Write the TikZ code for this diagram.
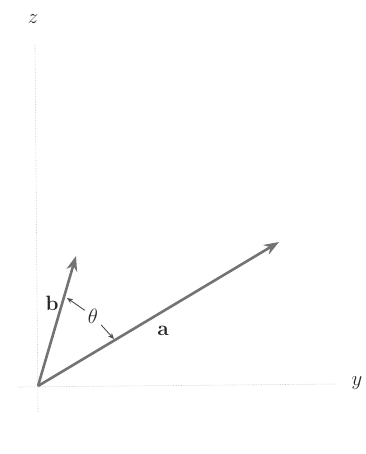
\documentclass[tikz,border=0pt]{standalone}
\usepackage{amsmath, amssymb}
\usepackage{tikz}
\usetikzlibrary{arrows.meta}

\begin{document}
\begin{tikzpicture}[x=1pt, y=-1pt, every node/.style={font=\fontsize{21}{24}\selectfont, text=black!85}]
  \useasboundingbox (0,0) rectangle (365,454);
  \coordinate (O) at (38,386);
  \coordinate (ztop) at (35,44);
  \coordinate (zbot) at (38,412);
  \coordinate (yleft) at (18,387);
  \coordinate (yright) at (336,384);
  \coordinate (atip) at (279,242);
  \coordinate (btip) at (76,256);
  \coordinate (bpt) at (67,298);
  \coordinate (apt) at (114,339);
  % axes
  \draw[densely dotted, gray!45, line width=0.6pt] (zbot) -- (ztop);
  \draw[densely dotted, gray!45, line width=0.6pt] (yleft) -- (yright);
  \node (zlab) at (33,19) {$z$};
  \node (ylab) at (357,383) {$y$};
  % vectors
  \draw[black!55, line width=2.6pt, -{Stealth[length=15pt, width=11pt]}] (O) -- (atip);
  \draw[black!55, line width=2.6pt, -{Stealth[length=15pt, width=11pt]}] (O) -- (btip);
  \node (alab) at (163,331) {$\mathbf{a}$};
  \node (blab) at (52,303) {$\mathbf{b}$};
  % angle
  \node[inner sep=3pt] (theta) at (93,316) {$\theta$};
  \draw[black!70, line width=0.9pt, -{Stealth[length=6pt, width=5pt]}] (theta) -- (bpt);
  \draw[black!70, line width=0.9pt, -{Stealth[length=6pt, width=5pt]}] (theta) -- (apt);
\end{tikzpicture}
\end{document}
